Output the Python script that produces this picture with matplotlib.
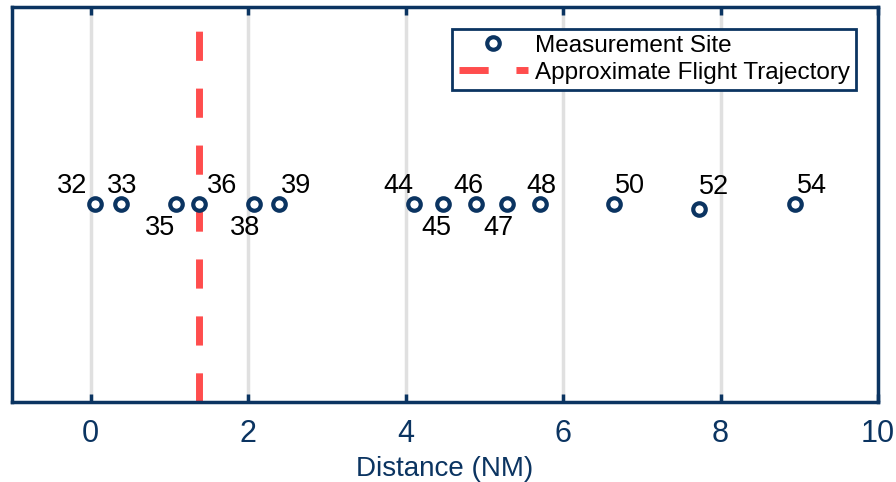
import matplotlib
matplotlib.use("Agg")
import matplotlib.pyplot as plt

plt.rcParams['font.family'] = ['Liberation Sans', 'DejaVu Sans']
plt.rcParams['lines.scale_dashes'] = False

navy = '#0b3461'
red = '#ff4d4d'

# site ids, distance along track (NM), small vertical offset
site_ids = [32, 33, 35, 36, 38, 39, 44, 45, 46, 47, 48, 50, 52, 54]
distance = [0.06, 0.38, 1.08, 1.37, 2.07, 2.39, 4.10, 4.48, 4.89, 5.29, 5.71, 6.64, 7.72, 8.95]
offset_y = [0, 0, 0, 0, 0, 0, 0, 0, 0, 0, 0, 0, -0.022, 0]
flight_x = 1.37

# label offsets (points) for each site
label_dx = [-17, 1, -11, 17, -6, 12, -11, -5, -5, -6, 1, 12, 11, 12]
label_dy = [13, 13, -17, 13, -17, 13, 13, -17, 13, -17, 13, 13, 16, 13]

fig = plt.figure(figsize=(8.96, 4.82), dpi=100)
ax = fig.add_axes([0.0134, 0.166, 0.9666, 0.8195])

ax.plot([flight_x, flight_x], [-1, 1], color=red, lw=5, dashes=(21, 20),
        label='Approximate Flight Trajectory', zorder=2)
ax.plot(distance, offset_y, 'o', ms=9, mfc='white', mec=navy, mew=3,
        label='Measurement Site', zorder=3)

for sid, x, y, dx, dy in zip(site_ids, distance, offset_y, label_dx, label_dy):
    ax.annotate(str(sid), (x, y), xytext=(dx, dy), textcoords='offset points',
                ha='center', va='center', fontsize=19.5, color='black')

ax.set_xlim(-1, 10)
ax.set_ylim(-1, 1)
ax.set_xticks([0, 2, 4, 6, 8, 10])
ax.set_yticks([])
ax.grid(axis='x', color='#e0e0e0', lw=2.5, zorder=0)
ax.set_axisbelow(True)
ax.tick_params(axis='x', direction='in', top=True, length=6, width=2.5,
               color=navy, labelcolor=navy, labelsize=22, pad=12)
for s in ax.spines.values():
    s.set_color(navy)
    s.set_linewidth(2.5)
ax.set_xlabel('Distance (NM)', fontsize=20, color=navy, labelpad=5)

handles, labels = ax.get_legend_handles_labels()
leg = ax.legend(handles[::-1], labels[::-1], loc='upper right', fontsize=17.5,
                handlelength=2.85, handletextpad=0.3, labelspacing=0.2,
                borderpad=0.25, borderaxespad=0.9, fancybox=False, framealpha=1)
leg.get_frame().set_edgecolor(navy)
leg.get_frame().set_linewidth(2)

fig.savefig('out.png', dpi=100)
